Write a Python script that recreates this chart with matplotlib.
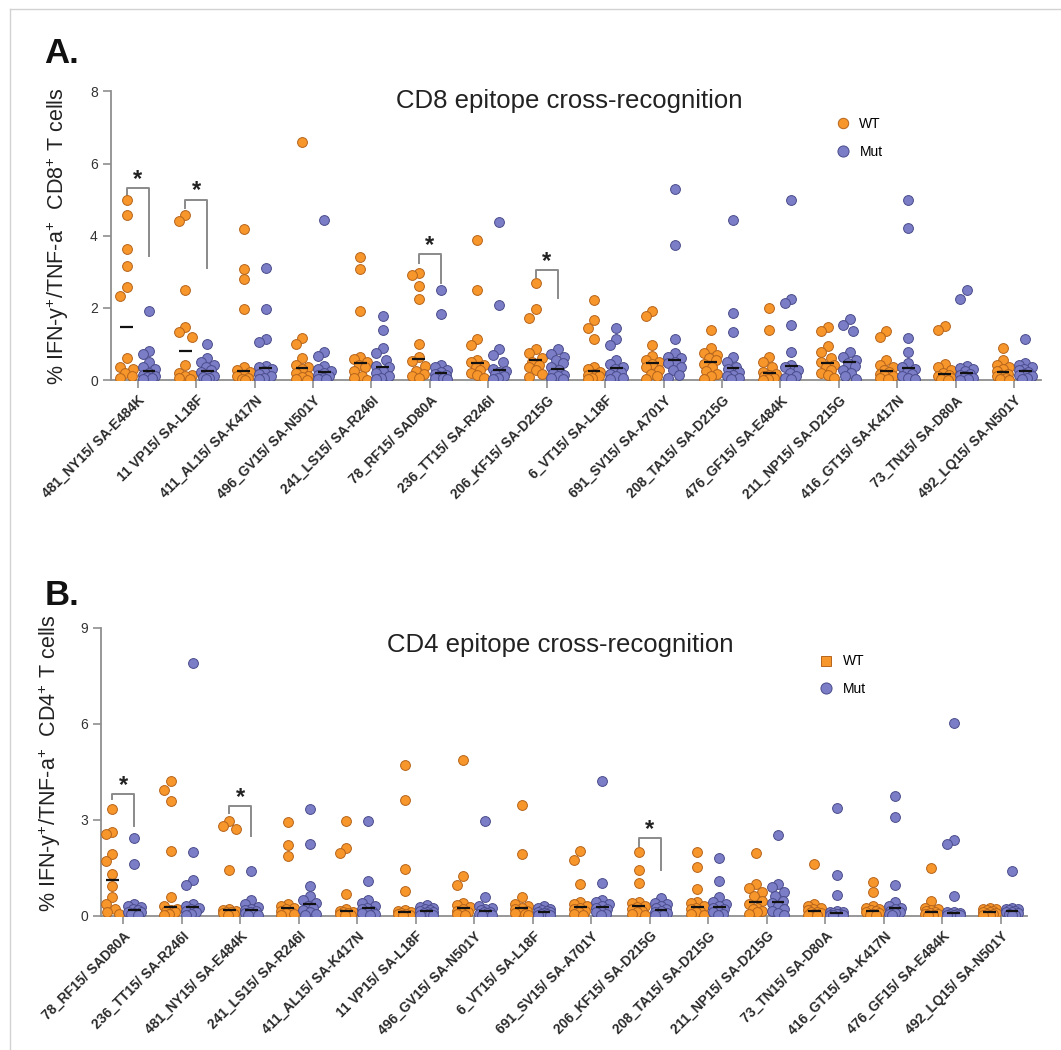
import numpy as np
import matplotlib.pyplot as plt
from matplotlib.lines import Line2D

plt.rcParams['font.family'] = ['Liberation Sans', 'DejaVu Sans']
plt.rcParams['mathtext.fontset'] = 'custom'
plt.rcParams['mathtext.rm'] = 'Liberation Sans'
plt.rcParams['mathtext.it'] = 'Liberation Sans:italic'
plt.rcParams['mathtext.bf'] = 'Liberation Sans:bold'

# ---- panel A : CD8 ----
cd8_labels = ["481_NY15/ SA-E484K", "11 VP15/ SA-L18F", "411_AL15/ SA-K417N", "496_GV15/ SA-N501Y",
              "241_LS15/ SA-R246I", "78_RF15/ SAD80A", "236_TT15/ SA-R246I", "206_KF15/ SA-D215G",
              "6_VT15/ SA-L18F", "691_SV15/ SA-A701Y", "208_TA15/ SA-D215G", "476_GF15/ SA-E484K",
              "211_NP15/ SA-D215G", "416_GT15/ SA-K417N", "73_TN15/ SA-D80A", "492_LQ15/ SA-N501Y"]

cd8_wt = [
    [5.0, 4.58, 3.63, 3.17, 2.57, 2.33, 0.6, 0.37, 0.3, 0.2, 0.1, 0.05],
    [4.57, 4.4, 2.49, 1.46, 1.34, 1.2, 0.42, 0.2, 0.15, 0.1, 0.05, 0.02],
    [4.18, 3.09, 2.81, 1.96, 0.35, 0.28, 0.22, 0.15, 0.1, 0.06, 0.03, 0.01],
    [6.6, 1.17, 1.0, 0.62, 0.42, 0.35, 0.3, 0.2, 0.12, 0.08, 0.04, 0.01],
    [3.4, 3.08, 1.92, 0.65, 0.58, 0.5, 0.42, 0.35, 0.25, 0.12, 0.05, 0.01],
    [2.97, 2.9, 2.6, 2.26, 1.0, 0.65, 0.52, 0.39, 0.25, 0.18, 0.1, 0.05],
    [3.87, 2.49, 1.13, 0.97, 0.55, 0.5, 0.42, 0.35, 0.28, 0.2, 0.14, 0.05],
    [2.68, 1.98, 1.73, 0.85, 0.74, 0.6, 0.5, 0.42, 0.37, 0.28, 0.18, 0.08],
    [2.23, 1.66, 1.43, 1.15, 0.37, 0.3, 0.23, 0.18, 0.14, 0.1, 0.05, 0.02],
    [1.92, 1.77, 0.97, 0.66, 0.55, 0.51, 0.45, 0.37, 0.28, 0.18, 0.1, 0.04],
    [1.4, 0.88, 0.75, 0.69, 0.6, 0.55, 0.45, 0.37, 0.25, 0.18, 0.1, 0.04],
    [2.0, 1.4, 0.65, 0.51, 0.35, 0.23, 0.18, 0.14, 0.1, 0.07, 0.04, 0.01],
    [1.48, 1.37, 0.94, 0.78, 0.6, 0.5, 0.42, 0.35, 0.28, 0.2, 0.14, 0.05],
    [1.37, 1.2, 0.55, 0.42, 0.35, 0.28, 0.23, 0.18, 0.14, 0.1, 0.05, 0.02],
    [1.5, 1.4, 0.44, 0.35, 0.28, 0.2, 0.14, 0.1, 0.07, 0.05, 0.03, 0.01],
    [0.9, 0.55, 0.42, 0.35, 0.3, 0.25, 0.18, 0.14, 0.1, 0.07, 0.04, 0.01],
]
cd8_mut = [
    [1.92, 0.8, 0.72, 0.5, 0.35, 0.3, 0.2, 0.15, 0.1, 0.08, 0.05, 0.02],
    [1.0, 0.62, 0.5, 0.42, 0.35, 0.28, 0.22, 0.15, 0.1, 0.08, 0.05, 0.02],
    [3.11, 1.96, 1.15, 1.06, 0.4, 0.35, 0.3, 0.25, 0.18, 0.1, 0.05, 0.02],
    [4.43, 0.78, 0.68, 0.4, 0.3, 0.25, 0.2, 0.15, 0.1, 0.07, 0.04, 0.02],
    [1.77, 1.4, 0.9, 0.74, 0.55, 0.4, 0.35, 0.25, 0.2, 0.1, 0.06, 0.02],
    [2.49, 1.82, 0.42, 0.35, 0.28, 0.22, 0.18, 0.14, 0.1, 0.07, 0.05, 0.02],
    [4.38, 2.08, 0.85, 0.69, 0.51, 0.3, 0.26, 0.22, 0.18, 0.12, 0.06, 0.02],
    [0.85, 0.72, 0.65, 0.55, 0.46, 0.35, 0.28, 0.2, 0.14, 0.1, 0.06, 0.02],
    [1.43, 1.13, 0.97, 0.55, 0.45, 0.37, 0.3, 0.22, 0.18, 0.1, 0.05, 0.02],
    [5.3, 3.75, 1.13, 0.74, 0.65, 0.6, 0.5, 0.46, 0.35, 0.28, 0.15, 0.05],
    [4.43, 1.86, 1.32, 0.65, 0.5, 0.37, 0.3, 0.23, 0.15, 0.1, 0.06, 0.02],
    [5.0, 2.26, 2.14, 1.54, 0.78, 0.42, 0.35, 0.28, 0.2, 0.12, 0.06, 0.02],
    [1.68, 1.52, 1.37, 0.78, 0.65, 0.55, 0.46, 0.4, 0.28, 0.2, 0.1, 0.04],
    [5.0, 4.22, 1.17, 0.78, 0.48, 0.37, 0.3, 0.22, 0.18, 0.1, 0.06, 0.02],
    [2.49, 2.26, 0.39, 0.34, 0.3, 0.24, 0.18, 0.14, 0.1, 0.07, 0.04, 0.01],
    [1.13, 0.48, 0.42, 0.37, 0.32, 0.28, 0.22, 0.18, 0.14, 0.1, 0.05, 0.02],
]
# (group, bracket top, left leg end, right leg end)
cd8_sig = [(0, 5.32, 5.12, 3.43), (1, 5.0, 4.78, 3.1), (5, 3.49, 3.25, 2.69), (7, 3.04, 2.85, 2.27)]

# ---- panel B : CD4 ----
cd4_labels = ["78_RF15/ SAD80A", "236_TT15/ SA-R246I", "481_NY15/ SA-E484K", "241_LS15/ SA-R246I",
              "411_AL15/ SA-K417N", "11 VP15/ SA-L18F", "496_GV15/ SA-N501Y", "6_VT15/ SA-L18F",
              "691_SV15/ SA-A701Y", "206_KF15/ SA-D215G", "208_TA15/ SA-D215G", "211_NP15/ SA-D215G",
              "73_TN15/ SA-D80A", "416_GT15/ SA-K417N", "476_GF15/ SA-E484K", "492_LQ15/ SA-N501Y"]

cd4_wt = [
    [3.33, 2.6, 2.55, 1.93, 1.72, 1.3, 0.94, 0.57, 0.36, 0.21, 0.1, 0.05],
    [4.2, 3.94, 3.6, 2.03, 0.57, 0.3, 0.22, 0.18, 0.15, 0.1, 0.06, 0.03],
    [2.95, 2.8, 2.7, 1.42, 0.22, 0.18, 0.15, 0.12, 0.1, 0.08, 0.05, 0.02],
    [2.92, 2.22, 1.85, 0.35, 0.3, 0.25, 0.2, 0.15, 0.1, 0.07, 0.04, 0.01],
    [2.95, 2.1, 1.95, 0.67, 0.2, 0.15, 0.12, 0.1, 0.07, 0.05, 0.03, 0.01],
    [4.72, 3.61, 1.46, 0.78, 0.16, 0.13, 0.1, 0.08, 0.06, 0.04, 0.02, 0.01],
    [4.88, 1.25, 0.96, 0.4, 0.33, 0.26, 0.2, 0.15, 0.1, 0.07, 0.04, 0.01],
    [3.46, 1.92, 0.57, 0.36, 0.3, 0.25, 0.2, 0.15, 0.1, 0.07, 0.04, 0.01],
    [2.03, 1.75, 0.99, 0.44, 0.36, 0.31, 0.25, 0.2, 0.15, 0.1, 0.05, 0.02],
    [1.98, 1.43, 1.01, 0.44, 0.38, 0.31, 0.26, 0.2, 0.15, 0.1, 0.05, 0.02],
    [1.98, 1.51, 0.83, 0.44, 0.38, 0.3, 0.25, 0.2, 0.15, 0.1, 0.05, 0.02],
    [1.95, 0.99, 0.85, 0.75, 0.6, 0.47, 0.35, 0.25, 0.21, 0.15, 0.1, 0.05],
    [1.61, 0.36, 0.3, 0.25, 0.21, 0.16, 0.12, 0.1, 0.07, 0.05, 0.03, 0.01],
    [1.06, 0.73, 0.3, 0.25, 0.21, 0.17, 0.13, 0.1, 0.07, 0.05, 0.03, 0.01],
    [1.48, 0.47, 0.25, 0.21, 0.17, 0.13, 0.1, 0.08, 0.06, 0.04, 0.02, 0.01],
    [0.25, 0.22, 0.2, 0.18, 0.15, 0.12, 0.1, 0.08, 0.06, 0.04, 0.02, 0.01],
]
cd4_mut = [
    [2.42, 1.61, 0.36, 0.3, 0.26, 0.2, 0.16, 0.12, 0.1, 0.07, 0.04, 0.02],
    [7.9, 2.0, 1.1, 0.95, 0.35, 0.3, 0.25, 0.2, 0.15, 0.1, 0.05, 0.02],
    [1.4, 0.5, 0.35, 0.28, 0.22, 0.18, 0.14, 0.1, 0.07, 0.05, 0.03, 0.01],
    [3.33, 2.24, 0.92, 0.6, 0.5, 0.4, 0.3, 0.25, 0.18, 0.12, 0.06, 0.02],
    [2.95, 1.08, 0.5, 0.4, 0.3, 0.25, 0.2, 0.15, 0.1, 0.07, 0.04, 0.01],
    [0.32, 0.28, 0.25, 0.2, 0.18, 0.15, 0.12, 0.1, 0.07, 0.05, 0.03, 0.01],
    [2.95, 0.59, 0.3, 0.25, 0.2, 0.16, 0.12, 0.1, 0.07, 0.05, 0.03, 0.01],
    [0.3, 0.25, 0.2, 0.18, 0.15, 0.12, 0.1, 0.08, 0.06, 0.04, 0.02, 0.01],
    [4.22, 1.02, 0.5, 0.42, 0.36, 0.3, 0.25, 0.2, 0.15, 0.1, 0.05, 0.02],
    [0.55, 0.4, 0.35, 0.3, 0.25, 0.2, 0.15, 0.12, 0.08, 0.05, 0.03, 0.01],
    [1.79, 1.09, 0.57, 0.42, 0.35, 0.3, 0.25, 0.2, 0.15, 0.1, 0.05, 0.02],
    [2.52, 0.99, 0.9, 0.75, 0.6, 0.47, 0.4, 0.3, 0.2, 0.15, 0.08, 0.03],
    [3.36, 1.28, 0.65, 0.15, 0.12, 0.1, 0.08, 0.06, 0.05, 0.03, 0.02, 0.01],
    [3.75, 3.1, 0.96, 0.42, 0.3, 0.25, 0.2, 0.15, 0.1, 0.07, 0.04, 0.01],
    [6.02, 2.36, 2.24, 0.6, 0.12, 0.1, 0.08, 0.06, 0.05, 0.03, 0.02, 0.01],
    [1.38, 0.25, 0.22, 0.2, 0.18, 0.15, 0.12, 0.1, 0.07, 0.05, 0.03, 0.01],
]
cd4_sig = [(0, 3.8, 3.65, 2.81), (2, 3.43, 3.2, 2.5), (9, 2.42, 2.19, 1.44)]

ORANGE, ORANGE_EDGE = '#F7962B', '#B5641C'
BLUE, BLUE_EDGE = '#7B7DC6', '#4A4C8C'
AXIS_GRAY = '#8f8f8f'


def spread(vals, yscale, step=0.055, maxw=0.12):
    # simple deterministic swarm: put each point where it overlaps least
    cands = [0, -step, step, -2 * step, 2 * step, -step / 2, step / 2, -1.5 * step, 1.5 * step]
    cands = [c for c in cands if abs(c) <= maxw]
    placed = []
    offs = np.zeros(len(vals))
    order = np.argsort(vals)[::-1]
    for k in order:
        v = vals[k]
        best, bestd = 0, -1
        for c in cands:
            if not placed:
                d = 1e9
            else:
                d = min(np.hypot((c - px) * 58.5, (v - py) * yscale) for px, py in placed)
            if d > bestd + 1e-9:
                best, bestd = c, d
            if d >= 10:
                break
        placed.append((best, v))
        offs[k] = best
    return offs


def draw_panel(ax, labels, wt, mut, sig, ymax, yticks, yscale):
    x = np.arange(len(labels))
    for i in x:
        for vals, dx, fc, ec in ((wt[i], -0.19, ORANGE, ORANGE_EDGE), (mut[i], 0.19, BLUE, BLUE_EDGE)):
            vals = np.array(vals)
            offs = spread(vals, yscale)
            ax.scatter(i + dx + offs, vals, s=50, c=fc, edgecolors=ec, linewidths=0.7, zorder=3)
            ax.hlines(np.median(vals), i + dx - 0.11, i + dx + 0.11, color='#111111', lw=1.6, zorder=4)
    for g, top, lbot, rbot in sig:
        ax.plot([g - 0.19, g - 0.19, g + 0.19, g + 0.19], [lbot, top, top, rbot],
                color='#8a8a8a', lw=1.4, zorder=2)
        ax.text(g, top + 0.03 * ymax, '*', ha='center', va='center', fontsize=17,
                fontweight='bold', color='#222222')
    ax.set_ylim(0, ymax)
    ax.set_yticks(yticks)
    ax.set_xticks(x)
    ax.set_xticklabels(labels, rotation=45, ha='right', rotation_mode='anchor',
                       fontsize=9.9, fontweight='bold', color='#2a2a2a')
    for s in ('top', 'right'):
        ax.spines[s].set_visible(False)
    for s in ('left', 'bottom'):
        ax.spines[s].set_color(AXIS_GRAY)
        ax.spines[s].set_linewidth(1.3)
    ax.tick_params(axis='both', colors=AXIS_GRAY, length=6, width=1.2, labelcolor='#333333')
    ax.tick_params(axis='x', labelcolor='#2a2a2a')
    ax.tick_params(axis='y', labelsize=10)


def add_legend(ax, anchor, wt_marker):
    handles = [Line2D([], [], ls='', marker=wt_marker, ms=7.5, mfc=ORANGE, mec=ORANGE_EDGE, mew=0.7, label='WT'),
               Line2D([], [], ls='', marker='o', ms=8, mfc=BLUE, mec=BLUE_EDGE, mew=0.7, label='Mut')]
    ax.legend(handles=handles, loc='center left', bbox_to_anchor=anchor, frameon=False,
              fontsize=10, handletextpad=0.6, labelspacing=1.0, handlelength=1.2)


fig = plt.figure(figsize=(10.61, 10.5), dpi=100)

axA = fig.add_axes([0.1046, 0.638, 0.877, 0.275])
axA.set_xlim(-0.46, 15.47)
draw_panel(axA, cd8_labels, cd8_wt, cd8_mut, cd8_sig, 8, [0, 2, 4, 6, 8], 36.0)
axA.set_ylabel(r'% IFN-y$^{+}$/TNF-a$^{+}$  CD8$^{+}$ T cells', fontsize=15.5, color='#222222')
axA.yaxis.set_label_coords(-0.043, 0.5)
axA.text(0.493, 0.965, 'CD8 epitope cross-recognition', transform=axA.transAxes,
         ha='center', va='center', fontsize=18.5, color='#222222')
add_legend(axA, (0.764, 0.838), 'o')

axB = fig.add_axes([0.0952, 0.128, 0.873, 0.274])
axB.set_xlim(-0.38, 15.45)
draw_panel(axB, cd4_labels, cd4_wt, cd4_mut, cd4_sig, 9, [0, 3, 6, 9], 32.0)
axB.set_ylabel(r'% IFN-y$^{+}$/TNF-a$^{+}$  CD4$^{+}$ T cells', fontsize=15.5, color='#222222')
axB.yaxis.set_label_coords(-0.041, 0.53)
axB.text(0.496, 0.94, 'CD4 epitope cross-recognition', transform=axB.transAxes,
         ha='center', va='center', fontsize=18.5, color='#222222')
add_legend(axB, (0.76, 0.835), 's')

fig.text(0.042, 0.94, 'A.', fontsize=25, fontweight='bold', color='#111111')
fig.text(0.042, 0.424, 'B.', fontsize=25, fontweight='bold', color='#111111')

# light frame on the top and left edge
fig.add_artist(Line2D([10 / 1061, 1], [1 - 9 / 1050, 1 - 9 / 1050], transform=fig.transFigure, color='#d2d2d2', lw=1))
fig.add_artist(Line2D([10 / 1061, 10 / 1061], [0, 1 - 9 / 1050], transform=fig.transFigure, color='#d2d2d2', lw=1))

fig.savefig('out.png', dpi=100, facecolor='white')
